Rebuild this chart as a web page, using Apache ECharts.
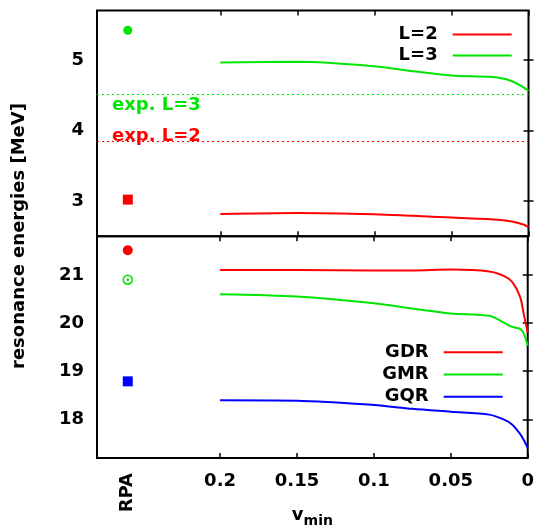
<!DOCTYPE html>
<html><head><meta charset="utf-8">
<script src="https://cdn.jsdelivr.net/npm/echarts@6/dist/echarts.min.js"></script>
<style>html,body{margin:0;padding:0;background:#fff}#c{width:537px;height:529px}</style>
</head><body><div id="c"></div>
<script>
// x values (v_min), shared by all curves
const vmin = [0.2, 0.15, 0.1, 0.075, 0.05, 0.025, 0.015, 0.01, 0.005, 0.0025, 0];
// upper panel
const L2 = [2.817, 2.831, 2.813, 2.79, 2.767, 2.743, 2.725, 2.705, 2.677, 2.66, 2.626];
const L3 = [4.962, 4.972, 4.91, 4.84, 4.78, 4.76, 4.728, 4.69, 4.635, 4.60, 4.56];
const expL2 = 3.84, expL3 = 4.51;
const rpaX = 0.26;
const rpaL2 = 3.02, rpaL3 = 5.42;
// lower panel
const GDR = [21.10, 21.10, 21.09, 21.09, 21.11, 21.07, 20.97, 20.85, 20.55, 20.17, 19.80];
const GMR = [20.60, 20.55, 20.41, 20.30, 20.20, 20.15, 20.00, 19.92, 19.88, 19.78, 19.53];
const GQR = [18.40, 18.39, 18.30, 18.22, 18.16, 18.10, 17.99, 17.89, 17.70, 17.57, 17.41];
const rpaGDR = 21.51, rpaGMR = 20.90, rpaGQR = 18.79;
// ticks
const xTicks = [0, 0.05, 0.1, 0.15, 0.2];
const yTicksTop = [3, 4, 5];
const yTicksBot = [18, 19, 20, 21];

const RED = '#ff0000', GREEN = '#00e600', BLUE = '#0000ff';
const FONT = 'DejaVu Sans';
const pairs = (ys) => vmin.map((x, i) => [x, ys[i]]);

const xBase = (grid, pos, withLabels) => ({
  type: 'value', gridIndex: grid, position: pos, min: 0, max: 0.28, inverse: true,
  axisLine: {show: false}, splitLine: {show: false},
  axisTick: {show: true, inside: true, length: 5, customValues: xTicks, lineStyle: {color: '#000', width: 1.5}},
  axisLabel: withLabels ? {show: true, customValues: xTicks, margin: 14, color: '#000',
    fontFamily: FONT, fontWeight: 'bold', fontSize: 18,
    formatter: v => String(+v.toFixed(2))} : {show: false}
});
const yBase = (grid, pos, min, max, ticks, withLabels) => ({
  type: 'value', gridIndex: grid, position: pos, min: min, max: max,
  axisLine: {show: false}, splitLine: {show: false},
  axisTick: {show: true, inside: true, length: 5, customValues: ticks, lineStyle: {color: '#000', width: 1.5}},
  axisLabel: withLabels ? {show: true, customValues: ticks, margin: 13, color: '#000',
    fontFamily: FONT, fontWeight: 'bold', fontSize: 18} : {show: false}
});

const line = (name, ys, color, xi, yi) => ({
  name, type: 'line', xAxisIndex: xi, yAxisIndex: yi, data: pairs(ys),
  symbol: 'none', smooth: 0.3, lineStyle: {color, width: 2}, itemStyle: {color}, z: 3
});
const pt = (x, y, sym, color, xi, yi, size) => ({
  type: 'scatter', xAxisIndex: xi, yAxisIndex: yi, data: [[x, y]],
  symbol: sym, symbolSize: size || 10, itemStyle: {color, opacity: 1}, z: 4,
  emphasis: {disabled: true}
});
const expLine = (value, color, text, pos, dist) => ({
  type: 'line', xAxisIndex: 0, yAxisIndex: 0, data: [], silent: true,
  markLine: {symbol: 'none', silent: true, animation: false,
    lineStyle: {color, type: [2, 3], width: 1.2, opacity: 1},
    label: {show: true, position: pos, formatter: text, color, fontFamily: FONT,
      fontWeight: 'bold', fontSize: 18, distance: dist},
    data: [[{coord: [0.28, value]}, {coord: [0, value]}]]}
});

const legendText = {fontFamily: FONT, fontWeight: 'bold', fontSize: 18, color: '#000', padding: [0, 10, 0, 0]};

const chart = echarts.init(document.getElementById('c'));
chart.setOption({
  animation: false,
  backgroundColor: '#fff',
  textStyle: {fontFamily: FONT},
  grid: [
    {left: 97, right: 8.5, top: 10.5, height: 225.8, show: true, borderColor: '#000', borderWidth: 2, backgroundColor: 'transparent'},
    {left: 97, right: 8.5, top: 236.3, height: 226.4, show: true, borderColor: '#000', borderWidth: 2, backgroundColor: 'transparent'}
  ],
  xAxis: [
    xBase(0, 'bottom', false),
    xBase(0, 'top', false),
    xBase(1, 'top', false),
    Object.assign(xBase(1, 'bottom', true), {
      name: '{v|v}{s|min}', nameLocation: 'middle', nameGap: 44,
      nameTextStyle: {rich: {
        v: {fontFamily: FONT, fontWeight: 'bold', fontSize: 18, color: '#000'},
        s: {fontFamily: FONT, fontWeight: 'bold', fontSize: 14, color: '#000', padding: [12, 0, 0, 0]}
      }}
    }),
    {type: 'value', gridIndex: 1, position: 'bottom', offset: 0, min: 0, max: 0.28, inverse: true,
     axisLine: {show: false}, splitLine: {show: false}, axisTick: {show: false},
     axisLabel: {show: true, customValues: [rpaX], rotate: 90, margin: 15, color: '#000',
       fontFamily: FONT, fontWeight: 'bold', fontSize: 18, formatter: () => 'RPA'}}
  ],
  yAxis: [
    yBase(0, 'left', 2.5, 5.7, yTicksTop, true),
    yBase(0, 'right', 2.5, 5.7, yTicksTop, false),
    yBase(1, 'left', 17.2, 21.8, yTicksBot, true),
    yBase(1, 'right', 17.2, 21.8, yTicksBot, false)
  ],
  legend: [
    {data: ['L=2', 'L=3'], orient: 'vertical', right: 25.3, top: 24, padding: 0, itemGap: 0,
     align: 'right', itemWidth: 59, itemHeight: 2, icon: 'rect', textStyle: Object.assign({lineHeight: 21}, legendText)},
    {data: ['GDR', 'GMR', 'GQR'], orient: 'vertical', right: 34.3, top: 341, padding: 0, itemGap: 0,
     align: 'right', itemWidth: 59, itemHeight: 2, icon: 'rect', textStyle: Object.assign({lineHeight: 22.3}, legendText)}
  ],
  graphic: [{
    type: 'text', x: 19, y: 236, rotation: Math.PI / 2,
    style: {text: 'resonance energies [MeV]', fill: '#000', font: 'bold 18px "DejaVu Sans"', align: 'center', verticalAlign: 'middle'}
  }],
  series: [
    line('L=2', L2, RED, 0, 0),
    line('L=3', L3, GREEN, 0, 0),
    expLine(expL3, GREEN, 'exp. L=3', 'insideStartBottom', [15, 2]),
    expLine(expL2, RED, 'exp. L=2', 'insideStartTop', [15, -4]),
    pt(rpaX, rpaL3, 'circle', GREEN, 0, 0, 9),
    pt(rpaX, rpaL2, 'rect', RED, 0, 0, 10),
    line('GDR', GDR, RED, 3, 2),
    line('GMR', GMR, GREEN, 3, 2),
    line('GQR', GQR, BLUE, 3, 2),
    pt(rpaX, rpaGDR, 'circle', RED, 3, 2, 10),
    Object.assign(pt(rpaX, rpaGMR, 'circle', '#fff', 3, 2, 9), {itemStyle: {color: '#fff', borderColor: GREEN, borderWidth: 1.6, opacity: 1}}),
    pt(rpaX, rpaGMR, 'circle', GREEN, 3, 2, 2.5),
    pt(rpaX, rpaGQR, 'rect', BLUE, 3, 2, 10)
  ]
});
</script></body></html>
